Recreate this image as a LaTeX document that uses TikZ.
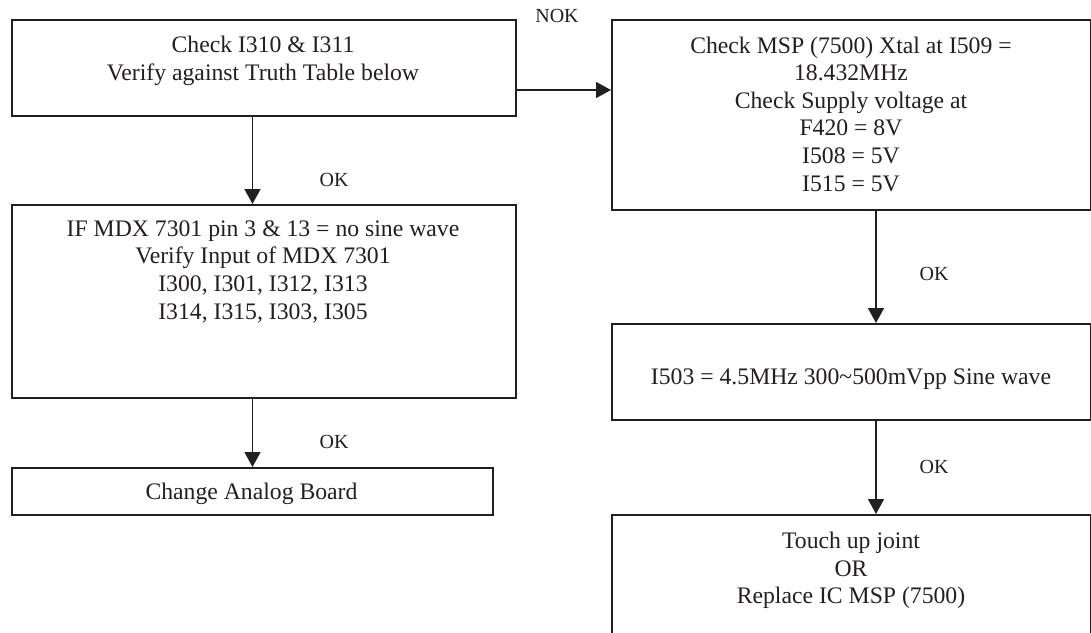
\documentclass[tikz,border=0pt]{standalone}
\usepackage{fontspec}
\setmainfont{Liberation Serif}
\usetikzlibrary{arrows.meta}
\definecolor{ink}{HTML}{231F20}
\begin{document}
\begin{tikzpicture}[x=1pt,y=-1pt,
  box/.style={draw=ink, line width=2pt, inner sep=0pt, anchor=north west},
  txt/.style={font=\fontsize{23.7}{27.6}\selectfont, align=center, inner sep=0pt, text=ink},
  lbl/.style={font=\fontsize{20}{24}\selectfont, inner sep=0pt, text=ink},
  conn/.style={draw=ink, line width=1.4pt, -{Triangle[length=15pt,width=16pt]}}]
\useasboundingbox (0,0) rectangle (1091,632);
\clip (0,0) rectangle (1091,632);

% boxes
\node[box, minimum width=504pt, minimum height=96pt]  (b1) at (11,19)  {};
\node[box, minimum width=479pt, minimum height=190pt] (b2) at (611,19) {};
\node[box, minimum width=504pt, minimum height=193pt] (b3) at (11,204) {};
\node[box, minimum width=481pt, minimum height=47pt]  (b4) at (11,467) {};
\node[box, minimum width=479pt, minimum height=96pt]  (b5) at (611,323) {};
\node[box, minimum width=479pt, minimum height=135pt] (b6) at (611,514) {};

% box texts
\node[txt, anchor=north] (t1) at (263,35.8)
  {Check I310 \& I311\\Verify against Truth Table below};
\node[txt, anchor=north] (t2) at (851,36.5)
  {Check MSP (7500) Xtal at I509 =\\18.432MHz\\Check Supply voltage at\\F420 = 8V\\I508 = 5V\\I515 = 5V};
\node[txt, anchor=north] (t3) at (263,220.3)
  {IF MDX 7301 pin 3 \& 13 = no sine wave\\Verify Input of MDX 7301\\I300, I301, I312, I313\\I314, I315, I303, I305};
\node[txt, anchor=base] (t4) at (251.5,499.5) {Change Analog Board};
\node[txt, anchor=base] (t5) at (851,384) {I503 = 4.5MHz 300\textasciitilde500mVpp Sine wave};
\node[txt, anchor=north] (t6) at (851,531.8)
  {Touch up joint\\OR\\Replace IC MSP (7500)};

% connectors
\draw[conn] (b1.south -| b4.north) -- (b3.north -| b4.north);
\draw[conn] (b3.south -| b4.north) -- (b4.north);
\draw[conn] ([yshift=-22pt]b1.east) -- ([yshift=-22pt]b1.east -| b2.west);
\draw[conn] ([xshift=24.5pt]b2.south) -- ([xshift=24.5pt]b2.south |- b5.north);
\draw[conn] ([xshift=24.5pt]b5.south) -- ([xshift=24.5pt]b5.south |- b6.north);

% connector labels
\node[lbl] (l1) at (334,180) {OK};
\node[lbl] (l2) at (334,442) {OK};
\node[lbl] (l3) at (557,16)  {NOK};
\node[lbl] (l4) at (934,274) {OK};
\node[lbl] (l5) at (934,467) {OK};
\end{tikzpicture}
\end{document}
